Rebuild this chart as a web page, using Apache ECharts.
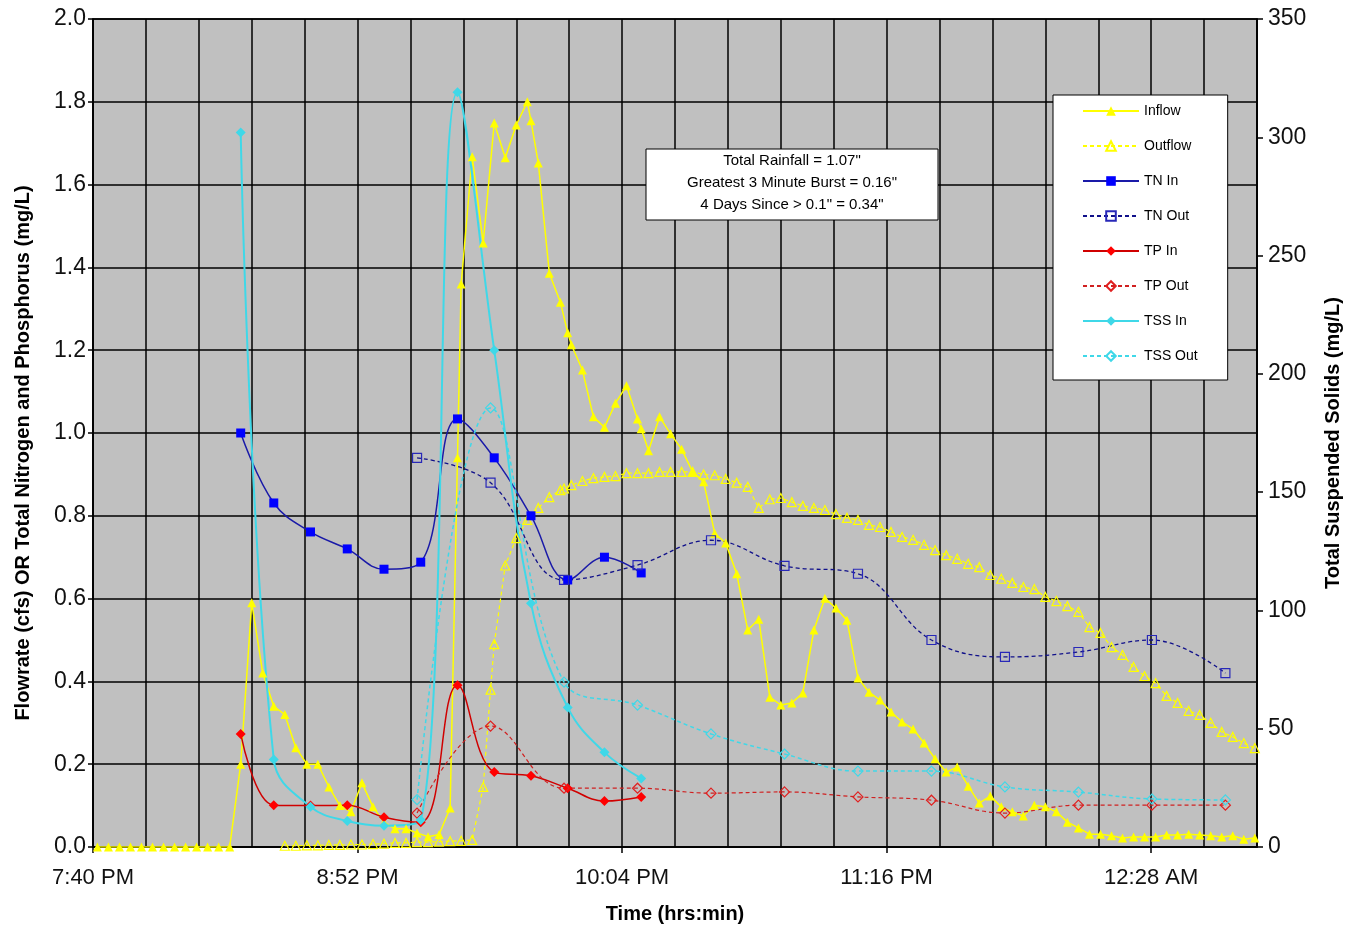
<!DOCTYPE html>
<html>
<head>
<meta charset="utf-8">
<script src="https://cdn.jsdelivr.net/npm/echarts@6.0.0/dist/echarts.min.js"></script>
<style>
  html, body { margin: 0; padding: 0; background: #ffffff; }
  #chart { width: 1354px; height: 929px; }
</style>
</head>
<body>
<div id="chart"></div>
<script>
// ---------------- DATA ----------------
// Times are clock times (24h); times before noon are after midnight.
const inflowTimes = ['19:42','19:45','19:48','19:51','19:54','19:57','20:00','20:03','20:06','20:09','20:12','20:15','20:18',
  '20:21','20:24','20:27','20:30','20:33','20:36','20:39','20:42','20:45','20:48','20:51','20:54','20:57','21:00','21:03','21:06',
  '21:09','21:12','21:15','21:18','21:20','21:21','21:24','21:27','21:30','21:33','21:36','21:39','21:40','21:42','21:45','21:48',
  '21:50','21:51','21:54','21:57','22:00','22:03','22:06','22:09','22:10','22:12','22:15','22:18','22:21','22:24','22:27','22:30',
  '22:33','22:36','22:39','22:42','22:45','22:48','22:51','22:54','22:57','23:00','23:03','23:06','23:09','23:12','23:15','23:18',
  '23:21','23:24','23:27','23:30','23:33','23:36','23:39','23:42','23:45','23:48','23:51','23:54','23:57','00:00','00:03','00:06',
  '00:09','00:12','00:15','00:18','00:21','00:24','00:27','00:30','00:33','00:36','00:39','00:42','00:45','00:48','00:51','00:54','00:57'];
const inflowValues = [0,0,0,0,0,0,0,0,0,0,0,0,0,
  0.20,0.59,0.42,0.34,0.32,0.24,0.20,0.20,0.145,0.10,0.085,0.155,0.097,0.06,0.044,0.044,
  0.034,0.025,0.03,0.094,0.94,1.36,1.667,1.459,1.749,1.665,1.744,1.80,1.754,1.652,1.386,1.316,
  1.242,1.213,1.152,1.039,1.014,1.072,1.114,1.034,1.01,0.957,1.039,0.998,0.961,0.906,0.882,0.758,
  0.734,0.66,0.524,0.55,0.362,0.343,0.348,0.372,0.524,0.601,0.577,0.548,0.408,0.374,0.355,0.326,
  0.302,0.285,0.251,0.213,0.181,0.193,0.147,0.106,0.123,0.097,0.085,0.075,0.101,0.097,0.085,0.06,
  0.046,0.031,0.031,0.027,0.022,0.024,0.024,0.024,0.029,0.029,0.031,0.029,0.027,0.024,0.027,0.019,0.022];

const outflowTimes = ['20:33','20:36','20:39','20:42','20:45','20:48','20:51','20:54','20:57','21:00','21:03','21:06','21:09',
  '21:12','21:15','21:18','21:21','21:24','21:27','21:29','21:30','21:33','21:36','21:39','21:42','21:45','21:48','21:49','21:51',
  '21:54','21:57','22:00','22:03','22:06','22:09','22:12','22:15','22:18','22:21','22:24','22:27','22:30','22:33','22:36','22:39',
  '22:42','22:45','22:48','22:51','22:54','22:57','23:00','23:03','23:06','23:09','23:12','23:15','23:18','23:21','23:24','23:27',
  '23:30','23:33','23:36','23:39','23:42','23:45','23:48','23:51','23:54','23:57','00:00','00:03','00:06','00:09','00:12','00:15',
  '00:18','00:21','00:24','00:27','00:30','00:33','00:36','00:39','00:42','00:45','00:48','00:51','00:54','00:57'];
const outflowValues = [0.003,0.003,0.004,0.004,0.005,0.005,0.006,0.006,0.007,0.008,0.01,0.01,0.012,
  0.012,0.013,0.014,0.015,0.017,0.145,0.38,0.49,0.68,0.746,0.79,0.819,0.845,0.862,0.866,0.874,
  0.884,0.891,0.894,0.896,0.903,0.903,0.903,0.906,0.906,0.906,0.906,0.90,0.898,0.889,0.88,0.87,
  0.819,0.84,0.843,0.833,0.824,0.819,0.814,0.804,0.795,0.79,0.778,0.773,0.761,0.749,0.742,0.73,
  0.717,0.705,0.696,0.684,0.676,0.657,0.648,0.638,0.628,0.623,0.604,0.594,0.582,0.568,0.531,0.517,
  0.483,0.464,0.435,0.413,0.396,0.365,0.348,0.329,0.319,0.30,0.278,0.266,0.251,0.239];

const inTimes  = ['20:21','20:30','20:40','20:50','21:00','21:10','21:20','21:30','21:40','21:50','22:00','22:10'];
const outTimes = ['21:09','21:29','21:49','22:09','22:29','22:49','23:09','23:29','23:49','00:09','00:29','00:49'];

const tnIn   = [1.0,0.831,0.761,0.72,0.671,0.688,1.034,0.94,0.80,0.645,0.70,0.662];
const tnOut  = [0.94,0.88,0.645,0.681,0.741,0.679,0.66,0.50,0.459,0.471,0.50,0.42];
const tpIn   = [0.273,0.101,0.10,0.101,0.072,0.06,0.391,0.181,0.172,0.142,0.111,0.121];
const tpOut  = [0.082,0.292,0.142,0.142,0.13,0.133,0.121,0.113,0.082,0.101,0.101,0.101];
const tssIn  = [302,37,17,11,9,11.4,319,210,103,59,40,29];
const tssOut = [20,185.6,69.7,60,47.8,39.3,32.1,32.1,25.4,23.2,20.3,19.9];

const seriesNames = ['Inflow','Outflow','TN In','TN Out','TP In','TP Out','TSS In','TSS Out'];
const leftTicks  = { min: 0, max: 2.0, step: 0.2 };
const rightTicks = { min: 0, max: 350, step: 50 };
const infoLines = ['Total Rainfall = 1.07"', 'Greatest 3 Minute Burst = 0.16"', '4 Days Since > 0.1" = 0.34"'];

// ---------------- HELPERS ----------------
// x unit = 1/100 of a day (Excel date axis, major unit 0.01 day)
function toX(t) {
  const p = t.split(':').map(Number);
  const h = p[0] < 12 ? p[0] + 24 : p[0];
  return (h * 60 + p[1]) / 14.4;
}
function pairs(times, vals) { return times.map((t, i) => [toX(t), vals[i]]); }
function fmtTime(v) {
  const r = Math.round(v);
  if ((r - 82) % 5 !== 0 || r > 102) return '';
  const mins = Math.floor(r * 14.4 + 1e-6) % 1440;
  const h = Math.floor(mins / 60), m = mins % 60;
  const ap = h >= 12 ? 'PM' : 'AM';
  let h12 = h % 12; if (h12 === 0) h12 = 12;
  return h12 + ':' + String(m).padStart(2, '0') + ' ' + ap;
}

const FONT = '"Liberation Sans", Arial, sans-serif';
const YEL = '#ffff00', BLUE = '#0000ff', NAVY = '#1a1aa8', RED = '#ff0000', CYAN = '#3fd8e8';
const CLEAR = 'rgba(0,0,0,0)';

function mk(name, data, opt) {
  return Object.assign({
    name: name, type: 'line', data: data, animation: false,
    symbolSize: 9, smooth: false
  }, opt);
}

const series = [
  mk(seriesNames[0], pairs(inflowTimes, inflowValues), {
    symbol: 'triangle', symbolSize: 9,
    itemStyle: { color: YEL }, lineStyle: { color: YEL, width: 1.5 }
  }),
  mk(seriesNames[1], pairs(outflowTimes, outflowValues), {
    symbol: 'triangle', symbolSize: 9,
    itemStyle: { color: CLEAR, borderColor: YEL, borderWidth: 1.2 },
    lineStyle: { color: YEL, width: 1.2, type: [4, 3] }
  }),
  mk(seriesNames[2], pairs(inTimes, tnIn), {
    symbol: 'rect', symbolSize: 9, smooth: 0.4,
    itemStyle: { color: BLUE }, lineStyle: { color: NAVY, width: 1.5 }
  }),
  mk(seriesNames[3], pairs(outTimes, tnOut), {
    symbol: 'rect', symbolSize: 9, smooth: 0.4,
    itemStyle: { color: CLEAR, borderColor: '#2828b8', borderWidth: 1.2 },
    lineStyle: { color: '#10108a', width: 1.3, type: [4, 3] }
  }),
  mk(seriesNames[4], pairs(inTimes, tpIn), {
    symbol: 'diamond', symbolSize: 10, smooth: 0.4,
    itemStyle: { color: RED }, lineStyle: { color: '#d00000', width: 1.5 }
  }),
  mk(seriesNames[5], pairs(outTimes, tpOut), {
    symbol: 'diamond', symbolSize: 10, smooth: 0.4,
    itemStyle: { color: CLEAR, borderColor: '#e02020', borderWidth: 1.2 },
    lineStyle: { color: '#d02020', width: 1.2, type: [4, 3] }
  }),
  mk(seriesNames[6], pairs(inTimes, tssIn), {
    yAxisIndex: 1, symbol: 'diamond', symbolSize: 10, smooth: 0.4,
    itemStyle: { color: CYAN }, lineStyle: { color: CYAN, width: 2 }
  }),
  mk(seriesNames[7], pairs(outTimes, tssOut), {
    yAxisIndex: 1, symbol: 'diamond', symbolSize: 10, smooth: 0.4,
    itemStyle: { color: CLEAR, borderColor: CYAN, borderWidth: 1.2 },
    lineStyle: { color: CYAN, width: 1.5, type: [4, 3] }
  })
];

const chart = echarts.init(document.getElementById('chart'), null, { renderer: 'canvas' });
chart.setOption({
  animation: false,
  backgroundColor: '#ffffff',
  textStyle: { fontFamily: FONT },
  grid: {
    left: 93, right: 97, top: 19, bottom: 82, show: true,
    backgroundColor: '#c0c0c0', borderColor: '#000000', borderWidth: 1.5
  },
  xAxis: [
    {
      type: 'value', min: 82, max: 104, interval: 1, position: 'bottom',
      axisLine: { show: true, onZero: false, lineStyle: { color: '#000', width: 1.5 } },
      axisTick: { show: false }, axisLabel: { show: false },
      splitLine: { show: true, lineStyle: { color: '#000', width: 1.5 } }
    },
    {
      type: 'value', min: 82, max: 104, interval: 5, position: 'bottom',
      axisLine: { show: false, onZero: false },
      axisTick: { show: true, length: 6, inside: false, lineStyle: { color: '#000', width: 1.5 },
                  customValues: [82, 87, 92, 97, 102] },
      axisLabel: { show: true, formatter: fmtTime, margin: 20, fontSize: 22, color: '#111', fontFamily: FONT,
                   customValues: [82, 87, 92, 97, 102] },
      splitLine: { show: false }
    }
  ],
  yAxis: [
    {
      type: 'value', min: leftTicks.min, max: leftTicks.max, interval: leftTicks.step, position: 'left',
      axisLine: { show: true, lineStyle: { color: '#000', width: 1.5 } },
      axisTick: { show: true, length: 5, lineStyle: { color: '#000', width: 1.5 } },
      axisLabel: { formatter: v => v.toFixed(1), margin: 7, fontSize: 23, color: '#111', fontFamily: FONT },
      splitLine: { show: true, lineStyle: { color: '#000', width: 1.5 } }
    },
    {
      type: 'value', min: rightTicks.min, max: rightTicks.max, interval: rightTicks.step, position: 'right',
      axisLine: { show: true, lineStyle: { color: '#000', width: 1.5 } },
      axisTick: { show: true, length: 6, lineStyle: { color: '#000', width: 1.5 } },
      axisLabel: { margin: 11, fontSize: 23, color: '#111', fontFamily: FONT },
      splitLine: { show: false }
    }
  ],
  legend: {
    show: true, orient: 'vertical', left: 1053, top: 95,
    data: seriesNames,
    backgroundColor: '#ffffff', borderColor: '#000000', borderWidth: 1,
    padding: [9, 30, 17, 29], itemGap: 21, itemWidth: 56, itemHeight: 12,
    textStyle: { fontSize: 14, color: '#000', fontFamily: FONT },
    inactiveColor: '#999'
  },
  graphic: [
    { type: 'rect', shape: { x: 646, y: 149, width: 292, height: 71 },
      style: { fill: '#ffffff', stroke: '#000000', lineWidth: 1 }, z: 100 },
    { type: 'text', x: 792, y: 161, z: 101,
      style: { text: infoLines[0], font: '15px ' + FONT, fill: '#000', textAlign: 'center', textVerticalAlign: 'middle' } },
    { type: 'text', x: 792, y: 183, z: 101,
      style: { text: infoLines[1], font: '15px ' + FONT, fill: '#000', textAlign: 'center', textVerticalAlign: 'middle' } },
    { type: 'text', x: 792, y: 205, z: 101,
      style: { text: infoLines[2], font: '15px ' + FONT, fill: '#000', textAlign: 'center', textVerticalAlign: 'middle' } },
    { type: 'text', x: 23, y: 453, rotation: Math.PI / 2, z: 101,
      style: { text: 'Flowrate (cfs) OR Total Nitrogen and Phosphorus (mg/L)', font: 'bold 20px ' + FONT,
               fill: '#000', textAlign: 'center', textVerticalAlign: 'middle' } },
    { type: 'text', x: 1333, y: 443, rotation: Math.PI / 2, z: 101,
      style: { text: 'Total Suspended Solids (mg/L)', font: 'bold 20px ' + FONT,
               fill: '#000', textAlign: 'center', textVerticalAlign: 'middle' } },
    { type: 'text', x: 675, y: 914, z: 101,
      style: { text: 'Time (hrs:min)', font: 'bold 20px ' + FONT,
               fill: '#000', textAlign: 'center', textVerticalAlign: 'middle' } }
  ],
  series: series
});
</script>
</body>
</html>
